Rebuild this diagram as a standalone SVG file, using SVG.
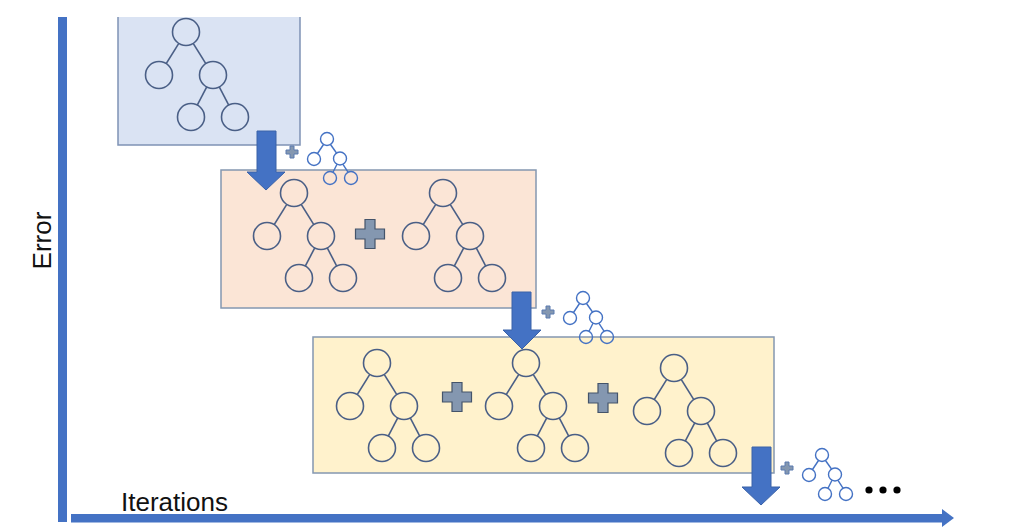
<svg xmlns="http://www.w3.org/2000/svg" xmlns:xlink="http://www.w3.org/1999/xlink" width="1020" height="532" viewBox="0 0 1020 532">
<style>
.axis{fill:#4472c4}
.lbl{font-family:"Liberation Sans",Arial,sans-serif;font-size:26px;fill:#111}
.bigtree{fill:none;stroke:#4a5f86;stroke-width:1.6}
.smalltree{fill:none;stroke:#4472c4;stroke-width:1.4}
.down{fill:#4472c4;stroke:#3a62a8;stroke-width:1}
.plusB{fill:#8497b0;stroke:#44546a;stroke-width:1.2}
.plusS{fill:#8497b0;stroke:#5b7ab0;stroke-width:1}
</style>
<defs>
<g id="tree">
<circle cx="0" cy="0" r="13.5"/>
<circle cx="-27" cy="43" r="13.5"/>
<circle cx="27" cy="43" r="13.5"/>
<circle cx="5" cy="85" r="13.5"/>
<circle cx="49" cy="85" r="13.5"/>
<line x1="-7.18" y1="11.43" x2="-19.82" y2="31.57"/>
<line x1="7.18" y1="11.43" x2="19.82" y2="31.57"/>
<line x1="20.74" y1="54.96" x2="11.26" y2="73.04"/>
<line x1="33.26" y1="54.96" x2="42.74" y2="73.04"/>
</g>
<g id="stree">
<circle cx="0" cy="0" r="6.5"/>
<circle cx="-13" cy="20" r="6.5"/>
<circle cx="13" cy="19.5" r="6.5"/>
<circle cx="3" cy="39" r="6.5"/>
<circle cx="24" cy="39" r="6.5"/>
<line x1="-3.5" y1="5.5" x2="-9.5" y2="14.5"/>
<line x1="3.5" y1="5.5" x2="9.5" y2="14"/>
<line x1="10" y1="25.3" x2="6" y2="33.2"/>
<line x1="16" y1="25.3" x2="21" y2="33.2"/>
</g>
<path id="bigplus" d="M-5,-14.5 H5 V-5 H14.5 V5 H5 V14.5 H-5 V5 H-14.5 V-5 H-5 Z"/>
<path id="smallplus" d="M-2,-6 H2 V-2 H6 V2 H2 V6 H-2 V2 H-6 V-2 H-2 Z"/>
</defs>

<g id="axes">
<rect class="axis" x="58" y="17" width="9" height="505"/>
<rect class="axis" x="71" y="514" width="872" height="8.5"/>
<path class="axis" d="M942,509 L954,518 L942,527 Z"/>
<text class="lbl" transform="translate(51,240.5) rotate(-90)" text-anchor="middle">Error</text>
<text class="lbl" x="121" y="511">Iterations</text>
</g>

<g id="stage1">
<rect x="118" y="17" width="182" height="128" fill="#dae3f3"/>
<path d="M118,17 V145 H300 V17" fill="none" stroke="#7f92b5" stroke-width="1.5"/>
<use xlink:href="#tree" href="#tree" class="bigtree" transform="translate(186,32)"/>
</g>

<g id="stage2">
<rect x="221" y="170" width="315" height="138" fill="#fbe5d6" stroke="#8497b0" stroke-width="1.5"/>
<use xlink:href="#tree" href="#tree" class="bigtree" transform="translate(294,193)"/>
<use xlink:href="#bigplus" href="#bigplus" class="plusB" transform="translate(370,234)"/>
<use xlink:href="#tree" href="#tree" class="bigtree" transform="translate(443,193)"/>
</g>

<g id="stage3">
<rect x="313" y="337" width="461" height="136" fill="#fff2cc" stroke="#8497b0" stroke-width="1.5"/>
<use xlink:href="#tree" href="#tree" class="bigtree" transform="translate(377,363)"/>
<use xlink:href="#bigplus" href="#bigplus" class="plusB" transform="translate(457,397)"/>
<use xlink:href="#tree" href="#tree" class="bigtree" transform="translate(526,363)"/>
<use xlink:href="#bigplus" href="#bigplus" class="plusB" transform="translate(603,398)"/>
<use xlink:href="#tree" href="#tree" class="bigtree" transform="translate(674,368)"/>
</g>

<g id="add1">
<use xlink:href="#smallplus" href="#smallplus" class="plusS" transform="translate(292,152)"/>
<use xlink:href="#stree" href="#stree" class="smalltree" transform="translate(327,139)"/>
</g>
<g id="add2">
<use xlink:href="#smallplus" href="#smallplus" class="plusS" transform="translate(548,312)"/>
<use xlink:href="#stree" href="#stree" class="smalltree" transform="translate(583,298)"/>
</g>
<g id="add3">
<use xlink:href="#smallplus" href="#smallplus" class="plusS" transform="translate(787,468)"/>
<use xlink:href="#stree" href="#stree" class="smalltree" transform="translate(822,455)"/>
</g>

<g id="ellipsis" fill="#000">
<circle cx="869" cy="490" r="3.6"/>
<circle cx="883" cy="490" r="3.6"/>
<circle cx="897" cy="490" r="3.6"/>
</g>

<g id="connectors">
<path class="down" d="M257,131 H276 V172 H285 L266,190 L247,172 H257 Z"/>
<path class="down" d="M512,292 H531 V330 H541 L522,349 L503,330 H512 Z"/>
<path class="down" d="M752,447 H771 V487 H780 L761,505 L742,487 H752 Z"/>
</g>
</svg>
